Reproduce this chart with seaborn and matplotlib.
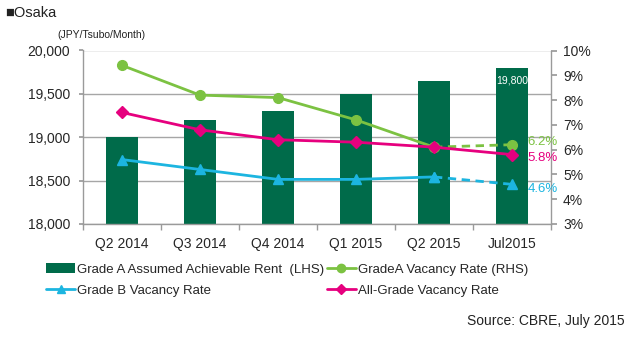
import numpy as np
import pandas as pd
import matplotlib
matplotlib.use("Agg")
import matplotlib.pyplot as plt
import seaborn as sns
from matplotlib.lines import Line2D
from matplotlib.patches import Patch

categories = ["Q2 2014", "Q3 2014", "Q4 2014", "Q1 2015", "Q2 2015", "Jul2015"]
rent = [19000, 19200, 19300, 19500, 19650, 19800]
grade_a_vac = [9.4, 8.2, 8.1, 7.2, 6.1, 6.2]
all_grade_vac = [7.5, 6.8, 6.4, 6.3, 6.1, 5.8]
grade_b_vac = [5.6, 5.2, 4.8, 4.8, 4.9, 4.6]

legend_labels = ["Grade A Assumed Achievable Rent  (LHS)", "GradeA Vacancy Rate (RHS)",
                 "Grade B Vacancy Rate", "All-Grade Vacancy Rate"]

C_BAR = "#006B4A"
C_A = "#7CC242"
C_ALL = "#E6007E"
C_B = "#1CB5E0"
C_AX = "#9A9A9A"

sns.set_theme(style="white")
plt.rcParams["font.family"] = ["Liberation Sans", "DejaVu Sans"]

fig = plt.figure(figsize=(6.32, 3.41), dpi=100)
ax = fig.add_axes([83 / 632, 1 - 224 / 341, (551 - 83) / 632, (224 - 50.5) / 341])

df = pd.DataFrame({"cat": categories, "rent": rent})
sns.barplot(data=df, x="cat", y="rent", color=C_BAR, width=0.4, ax=ax,
            saturation=1, edgecolor="none", zorder=2)
ax.set_ylim(18000, 20000)
ax.set_xlim(-0.5, len(categories) - 0.5)
yt = [18000, 18500, 19000, 19500, 20000]
ax.set_yticks(yt)
ax.set_yticklabels([f"{v:,}" for v in yt], fontsize=10)
ax.set_xlabel("")
ax.set_ylabel("")
ax.yaxis.grid(True, color="#A6A6A6", linewidth=1.0, zorder=0)
ax.set_axisbelow(True)
ax.set_xticks(range(len(categories)))
ax.set_xticklabels(categories, fontsize=10)
ax.tick_params(axis="x", length=0, pad=9.5)
ax.set_xticks(np.arange(-0.5, len(categories)), minor=True)
ax.tick_params(axis="x", which="minor", length=4, color=C_AX, direction="out", bottom=True)
ax.tick_params(axis="y", length=3, color=C_AX, direction="out", left=True, pad=6.4)
for s in ["top", "right"]:
    ax.spines[s].set_visible(False)
for s in ["left", "bottom"]:
    ax.spines[s].set_color(C_AX)
    ax.spines[s].set_linewidth(1.0)

ax.text(len(categories) - 1, rent[-1] - 150, f"{rent[-1]:,}", color="white",
        ha="center", va="center", fontsize=7.5, zorder=5)

ax2 = ax.twinx()
ax2.set_ylim(3, 10)
ax2.set_yticks(range(3, 11))
ax2.set_yticklabels([f"{v}%" for v in range(3, 11)], fontsize=10)
ax2.tick_params(axis="y", length=4, color=C_AX, direction="out", right=True, pad=4.6)
for s in ["top", "left", "bottom"]:
    ax2.spines[s].set_visible(False)
ax2.spines["right"].set_color(C_AX)
ax2.spines["right"].set_linewidth(1.0)
ax2.grid(False)

x = np.arange(len(categories))
n = len(categories)

def draw(series, color, marker, ms, dashed_last):
    if dashed_last:
        ax2.plot(x[:n - 1], series[:n - 1], color=color, lw=2.0, marker=marker, ms=ms, zorder=4)
        ax2.plot(x[n - 2:], series[n - 2:], color=color, lw=2.0, ls=(0, (3, 2)), marker=marker,
                 ms=ms, zorder=4)
    else:
        ax2.plot(x, series, color=color, lw=2.0, marker=marker, ms=ms, zorder=4)

draw(grade_a_vac, C_A, "o", 7, True)
draw(all_grade_vac, C_ALL, "D", 6, False)
draw(grade_b_vac, C_B, "^", 7, True)

for series, color, dy in [(grade_a_vac, C_A, 0.12), (all_grade_vac, C_ALL, -0.13),
                          (grade_b_vac, C_B, -0.2)]:
    ax2.text(n - 1 + 0.2, series[-1] + dy, f"{series[-1]}%", color=color, fontsize=9.5,
             ha="left", va="center", zorder=6)

fig.text(5 / 632, 1 - 13 / 341, "■Osaka", fontsize=10.5, ha="left", va="center", color="#222222")
fig.text(57 / 632, 1 - 35 / 341, "(JPY/Tsubo/Month)", fontsize=7.5, ha="left", va="center", color="#222222")
fig.text(625 / 632, 1 - 321 / 341, "Source: CBRE, July 2015", fontsize=10, ha="right", va="center",
         color="#222222")

handles = [
    Patch(facecolor=C_BAR, edgecolor="none"),
    Line2D([], [], color=C_B, lw=2.0, marker="^", ms=6),
    Line2D([], [], color=C_A, lw=2.0, marker="o", ms=6),
    Line2D([], [], color=C_ALL, lw=2.0, marker="D", ms=5),
]
labels = [legend_labels[0], legend_labels[2], legend_labels[1], legend_labels[3]]
fig.legend(handles, labels, ncol=2, loc="center left", bbox_to_anchor=(46 / 632, 1 - 280 / 341),
           frameon=False, fontsize=9.5, handlelength=2.2, handletextpad=0.15, columnspacing=0.2,
           labelspacing=0.65, borderaxespad=0, borderpad=0)

fig.savefig("out.png", dpi=100)
